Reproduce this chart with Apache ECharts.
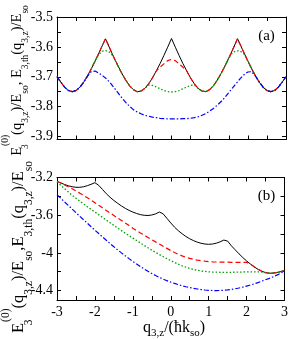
<!DOCTYPE html>
<html>
<head>
<meta charset="utf-8">
<script src="https://cdn.jsdelivr.net/npm/echarts@6/dist/echarts.min.js"></script>
<style>
html,body{margin:0;padding:0;background:#fff;}
#chart{width:291px;height:339px;}
</style>
</head>
<body>
<div id="chart"></div>
<script>
// ---------- Panel (a) data ----------
const qA = [-3,-2.9,-2.8,-2.7,-2.6,-2.5,-2.4,-2.3,-2.2,-2.1,-2,-1.9,-1.8,-1.73,-1.7,-1.6,-1.5,-1.4,-1.3,-1.2,-1.1,-1,-0.9,-0.8,-0.7,-0.6,-0.5,-0.4,-0.3,-0.2,-0.1,0,0.1,0.2,0.3,0.4,0.5,0.6,0.7,0.8,0.9,1,1.1,1.2,1.3,1.4,1.5,1.6,1.7,1.73,1.8,1.9,2,2.1,2.2,2.3,2.4,2.5,2.6,2.7,2.8,2.9,3];
const blackA = [-3.700,-3.718,-3.735,-3.746,-3.750,-3.746,-3.735,-3.718,-3.697,-3.673,-3.647,-3.620,-3.592,-3.573,-3.581,-3.610,-3.638,-3.664,-3.689,-3.711,-3.730,-3.743,-3.750,-3.748,-3.739,-3.724,-3.704,-3.681,-3.656,-3.629,-3.601,-3.572,-3.601,-3.629,-3.656,-3.681,-3.704,-3.724,-3.739,-3.748,-3.750,-3.743,-3.730,-3.711,-3.689,-3.664,-3.638,-3.610,-3.581,-3.573,-3.592,-3.620,-3.647,-3.673,-3.697,-3.718,-3.735,-3.746,-3.750,-3.746,-3.735,-3.718,-3.700];
const redA = [-3.700,-3.718,-3.735,-3.746,-3.750,-3.746,-3.735,-3.718,-3.697,-3.673,-3.647,-3.620,-3.592,-3.573,-3.581,-3.610,-3.638,-3.664,-3.689,-3.711,-3.730,-3.743,-3.750,-3.748,-3.739,-3.724,-3.704,-3.681,-3.668,-3.657,-3.646,-3.642,-3.646,-3.657,-3.668,-3.681,-3.704,-3.724,-3.739,-3.748,-3.750,-3.743,-3.730,-3.711,-3.689,-3.664,-3.638,-3.610,-3.581,-3.573,-3.592,-3.620,-3.647,-3.673,-3.697,-3.718,-3.735,-3.746,-3.750,-3.746,-3.735,-3.718,-3.700];
const greenA = [-3.700,-3.718,-3.735,-3.746,-3.750,-3.746,-3.735,-3.718,-3.697,-3.673,-3.647,-3.624,-3.614,-3.612,-3.613,-3.619,-3.638,-3.664,-3.689,-3.711,-3.730,-3.743,-3.750,-3.748,-3.739,-3.728,-3.729,-3.734,-3.740,-3.746,-3.750,-3.751,-3.750,-3.746,-3.740,-3.734,-3.729,-3.728,-3.739,-3.748,-3.750,-3.743,-3.730,-3.711,-3.689,-3.664,-3.638,-3.619,-3.613,-3.612,-3.614,-3.624,-3.647,-3.673,-3.697,-3.718,-3.735,-3.746,-3.750,-3.746,-3.735,-3.718,-3.700];
const blueA = [-3.700,-3.718,-3.735,-3.746,-3.750,-3.746,-3.735,-3.718,-3.698,-3.683,-3.681,-3.688,-3.697,-3.704,-3.708,-3.721,-3.737,-3.754,-3.771,-3.786,-3.799,-3.810,-3.818,-3.824,-3.829,-3.832,-3.835,-3.837,-3.839,-3.840,-3.841,-3.841,-3.841,-3.841,-3.840,-3.840,-3.839,-3.837,-3.834,-3.829,-3.823,-3.815,-3.806,-3.795,-3.783,-3.769,-3.753,-3.737,-3.722,-3.717,-3.706,-3.693,-3.684,-3.683,-3.698,-3.718,-3.735,-3.746,-3.750,-3.746,-3.735,-3.718,-3.700];
const yTicksA = [-3.9,-3.85,-3.8,-3.75,-3.7,-3.65,-3.6,-3.55,-3.5];
const yLabelsA = [-3.9,-3.8,-3.7,-3.6,-3.5];

// ---------- Panel (b) data ----------
const qB = [-3,-2.9,-2.8,-2.7,-2.6,-2.5,-2.4,-2.3,-2.2,-2.1,-2,-1.97,-1.9,-1.8,-1.7,-1.6,-1.5,-1.4,-1.3,-1.2,-1.1,-1,-0.9,-0.8,-0.7,-0.6,-0.5,-0.4,-0.3,-0.27,-0.2,-0.1,0,0.1,0.2,0.3,0.4,0.5,0.6,0.7,0.8,0.9,1,1.1,1.2,1.3,1.4,1.45,1.5,1.6,1.7,1.8,1.9,2,2.1,2.2,2.3,2.4,2.5,2.6,2.7,2.8,2.9,3];
const blackB = [-3.242,-3.258,-3.274,-3.288,-3.298,-3.304,-3.304,-3.298,-3.287,-3.272,-3.255,-3.249,-3.283,-3.327,-3.372,-3.410,-3.444,-3.474,-3.502,-3.527,-3.549,-3.567,-3.582,-3.594,-3.601,-3.603,-3.598,-3.586,-3.566,-3.552,-3.586,-3.634,-3.682,-3.727,-3.765,-3.797,-3.826,-3.850,-3.870,-3.886,-3.898,-3.906,-3.909,-3.906,-3.897,-3.883,-3.864,-3.853,-3.875,-3.925,-3.968,-4.010,-4.049,-4.085,-4.118,-4.148,-4.174,-4.195,-4.209,-4.216,-4.214,-4.208,-4.199,-4.188];
const redB = [-3.240,-3.259,-3.279,-3.299,-3.320,-3.343,-3.366,-3.390,-3.415,-3.441,-3.468,-3.476,-3.495,-3.522,-3.549,-3.576,-3.603,-3.630,-3.656,-3.682,-3.710,-3.738,-3.763,-3.788,-3.812,-3.836,-3.860,-3.883,-3.906,-3.913,-3.929,-3.952,-3.975,-3.996,-4.015,-4.032,-4.047,-4.059,-4.069,-4.077,-4.083,-4.088,-4.092,-4.095,-4.097,-4.098,-4.099,-4.099,-4.099,-4.100,-4.100,-4.100,-4.100,-4.100,-4.118,-4.148,-4.174,-4.195,-4.209,-4.216,-4.214,-4.208,-4.199,-4.188];
const greenB = [-3.245,-3.283,-3.319,-3.354,-3.388,-3.420,-3.451,-3.481,-3.510,-3.539,-3.567,-3.576,-3.595,-3.624,-3.652,-3.680,-3.708,-3.737,-3.764,-3.791,-3.817,-3.843,-3.869,-3.895,-3.921,-3.946,-3.971,-3.995,-4.018,-4.025,-4.040,-4.061,-4.082,-4.102,-4.120,-4.137,-4.152,-4.165,-4.176,-4.185,-4.192,-4.197,-4.201,-4.204,-4.205,-4.206,-4.206,-4.206,-4.206,-4.206,-4.205,-4.204,-4.203,-4.202,-4.201,-4.201,-4.202,-4.204,-4.210,-4.216,-4.214,-4.208,-4.199,-4.188];
const blueB = [-3.383,-3.421,-3.459,-3.497,-3.535,-3.573,-3.611,-3.648,-3.685,-3.722,-3.759,-3.770,-3.795,-3.831,-3.866,-3.901,-3.935,-3.968,-4.000,-4.031,-4.061,-4.090,-4.118,-4.145,-4.171,-4.195,-4.218,-4.240,-4.260,-4.266,-4.278,-4.295,-4.310,-4.324,-4.337,-4.349,-4.359,-4.368,-4.376,-4.383,-4.389,-4.394,-4.397,-4.399,-4.400,-4.399,-4.397,-4.395,-4.393,-4.388,-4.381,-4.373,-4.363,-4.352,-4.341,-4.329,-4.315,-4.300,-4.285,-4.270,-4.254,-4.236,-4.215,-4.192];
const yTicksB = [-4.4,-4.2,-4.0,-3.8,-3.6,-3.4,-3.2];
const yLabelsB = [-4.4,-4,-3.6,-3.2];
const xLabelsB = [-3,-2,-1,0,1,2,3];

// ---------- Texts ----------
const panelLabels = ['(a)', '(b)'];

const FONT = 'Liberation Serif';
const chart = echarts.init(document.getElementById('chart'), null, {renderer: 'canvas'});

function pairs(xs, ys) { return xs.map((x, i) => [x, ys[i]]); }

function xAx(grid, pos, labels) {
  return {
    gridIndex: grid, type: 'value', position: pos, min: -3, max: 3, interval: 0.5,
    axisLine: {onZero: false, lineStyle: {color: '#000', width: 1}},
    axisTick: {inside: true, length: 4, lineStyle: {color: '#000', width: 1}},
    axisLabel: labels ? {show: true, customValues: labels, margin: 5, color: '#000', fontFamily: FONT, fontSize: 14} : {show: false},
    splitLine: {show: false}
  };
}
function yAx(grid, pos, min, max, ticks, labels) {
  return {
    gridIndex: grid, type: 'value', position: pos, min: min, max: max,
    axisLine: {onZero: false, lineStyle: {color: '#000', width: 1}},
    axisTick: {inside: true, length: 4, customValues: ticks, lineStyle: {color: '#000', width: 1}},
    axisLabel: labels ? {show: true, customValues: labels, margin: 4, color: '#000', fontFamily: FONT, fontSize: 14} : {show: false},
    splitLine: {show: false}
  };
}
function line(xi, yi, xs, ys, color, type, width) {
  return {
    type: 'line', xAxisIndex: xi, yAxisIndex: yi, data: pairs(xs, ys),
    showSymbol: false, symbol: 'none', smooth: false, silent: true,
    lineStyle: {color: color, width: width, type: type},
    z: 2
  };
}

function richTitle(base, sub, L, supH) {
  return {
    b: {fontFamily: FONT, fontSize: base, lineHeight: L, verticalAlign: 'middle', fill: '#000'},
    s: {fontFamily: FONT, fontSize: sub, lineHeight: sub, verticalAlign: 'bottom', fill: '#000'},
    s0: {fontFamily: FONT, fontSize: sub, lineHeight: sub, verticalAlign: 'bottom', width: 1, fill: '#000'},
    p: {fontFamily: FONT, fontSize: sub, height: supH, lineHeight: supH, verticalAlign: 'top', fill: '#000'}
  };
}

const titleTop = '{b|E}{s0|3}{p|(0)}{b|(q}{s|3,z}{b|)/E}{s|so}{b|, E}{s|3,th}{b|(q}{s|3,z}{b|)/E}{s|so}';
const titleBot = '{b|E}{s0|3}{p|(0)}{b|(q}{s|3,z}{b|)/E}{s|so}{b|,E}{s|3,th}{b|(q}{s|3,z}{b|)/E}{s|so}';
const xName = '{b|q}{s|3,z}{b|/(ħk}{s|so}{b|)}';

const option = {
  animation: false,
  backgroundColor: '#fff',
  grid: [
    {left: 57, right: 5, top: 17, height: 122.5},
    {left: 57, right: 5, top: 177.5, height: 122.5}
  ],
  xAxis: [xAx(0, 'bottom', null), xAx(0, 'top', null), xAx(1, 'bottom', xLabelsB), xAx(1, 'top', null)],
  yAxis: [
    yAx(0, 'left', -3.91, -3.5, yTicksA, yLabelsA), yAx(0, 'right', -3.91, -3.5, yTicksA, null),
    yAx(1, 'left', -4.5, -3.2, yTicksB, yLabelsB), yAx(1, 'right', -4.5, -3.2, yTicksB, null)
  ],
  series: [
    line(0, 0, qA, blackA, '#000000', 'solid', 1),
    line(0, 0, qA, redA, '#ff0000', [5, 3], 1.2),
    line(0, 0, qA, greenA, '#00a000', [1.5, 2], 1.3),
    line(0, 0, qA, blueA, '#0000ff', [5, 2, 1.5, 2], 1.2),
    line(2, 2, qB, blackB, '#000000', 'solid', 1),
    line(2, 2, qB, redB, '#ff0000', [5, 3], 1.2),
    line(2, 2, qB, greenB, '#00a000', [1.5, 2], 1.3),
    line(2, 2, qB, blueB, '#0000ff', [5, 2, 1.5, 2], 1.2)
  ],
  graphic: [
    {type: 'text', x: 17, y: 80.5, rotation: Math.PI / 2,
     style: {text: titleTop, rich: richTitle(14.5, 9.5, 26.5, 3.5), align: 'center', verticalAlign: 'middle', fill: '#000', fontFamily: FONT, fontSize: 14.5}},
    {type: 'text', x: 19, y: 247, rotation: Math.PI / 2,
     style: {text: titleBot, rich: richTitle(16.5, 11.5, 31.5, 6.1), align: 'center', verticalAlign: 'middle', fill: '#000', fontFamily: FONT, fontSize: 16.5}},
    {type: 'text', x: 174, y: 327.7,
     style: {text: xName, rich: richTitle(16, 11, 21.6, 4), align: 'center', verticalAlign: 'middle', fill: '#000', fontFamily: FONT, fontSize: 16}},
    {type: 'text', x: 266.5, y: 36,
     style: {text: panelLabels[0], align: 'center', verticalAlign: 'middle', fill: '#000', fontFamily: FONT, fontSize: 15}},
    {type: 'text', x: 266.5, y: 196,
     style: {text: panelLabels[1], align: 'center', verticalAlign: 'middle', fill: '#000', fontFamily: FONT, fontSize: 15}}
  ]
};
chart.setOption(option);
</script>
</body>
</html>
